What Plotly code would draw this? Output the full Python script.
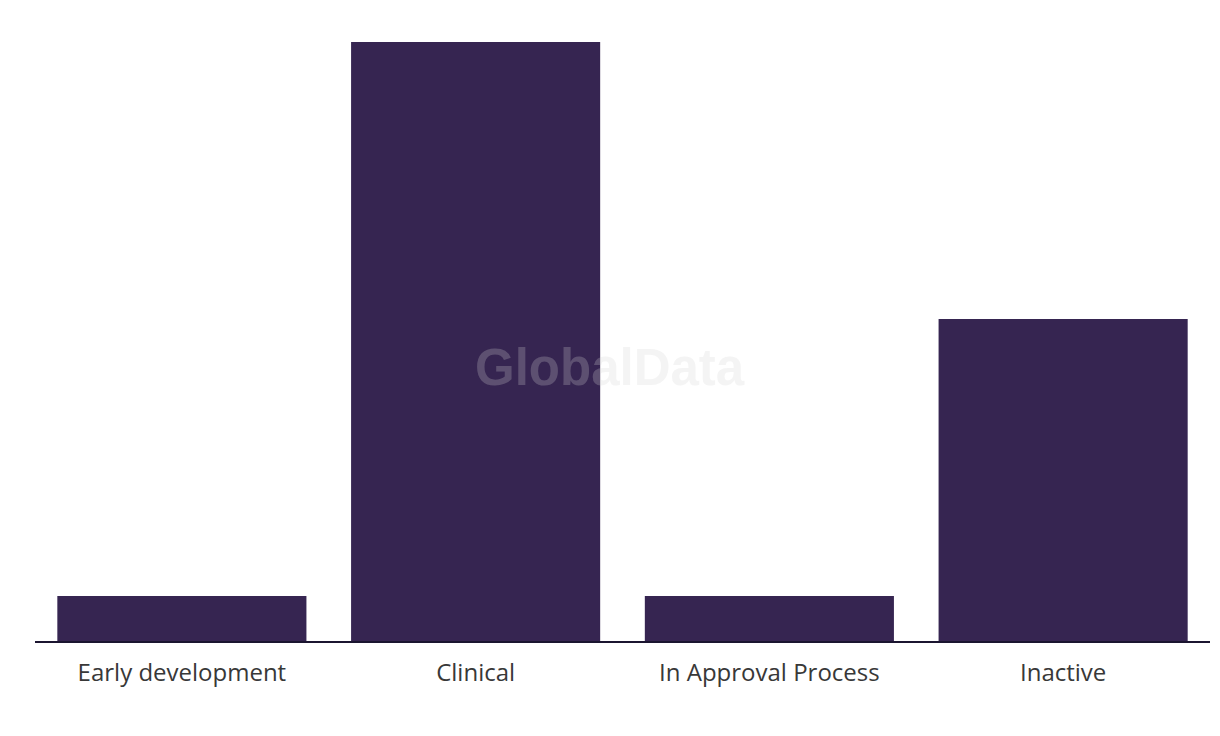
import plotly.graph_objects as go

categories = ["Early development", "Clinical", "In Approval Process", "Inactive"]
values = [7, 93, 7, 50]

fig = go.Figure()
fig.add_trace(go.Bar(
    x=categories, y=values,
    marker=dict(color="#362551", line=dict(width=0)),
    hoverinfo="x+y",
))

fig.update_layout(
    width=1220, height=736,
    margin=dict(l=35, r=10, t=42, b=95),
    paper_bgcolor="white", plot_bgcolor="white",
    bargap=0.152,
    showlegend=False,
    font=dict(family="Open Sans, sans-serif", color="#383838"),
    xaxis=dict(
        showgrid=False, zeroline=False,
        showline=True, linecolor="#1b1530", linewidth=2,
        ticks="", tickfont=dict(size=24, color="#383838"),
        ticklabelstandoff=9,
    ),
    yaxis=dict(
        range=[0, 93], visible=False, showgrid=False, zeroline=False,
    ),
    annotations=[dict(
        text="<b>GlobalData</b>", x=0.489, y=0.456, xref="paper", yref="paper",
        showarrow=False,
        font=dict(family="Liberation Sans, Arial, sans-serif", size=51,
                  color="rgba(211,211,211,0.25)"),
    )],
)

fig.write_html("out.html")
